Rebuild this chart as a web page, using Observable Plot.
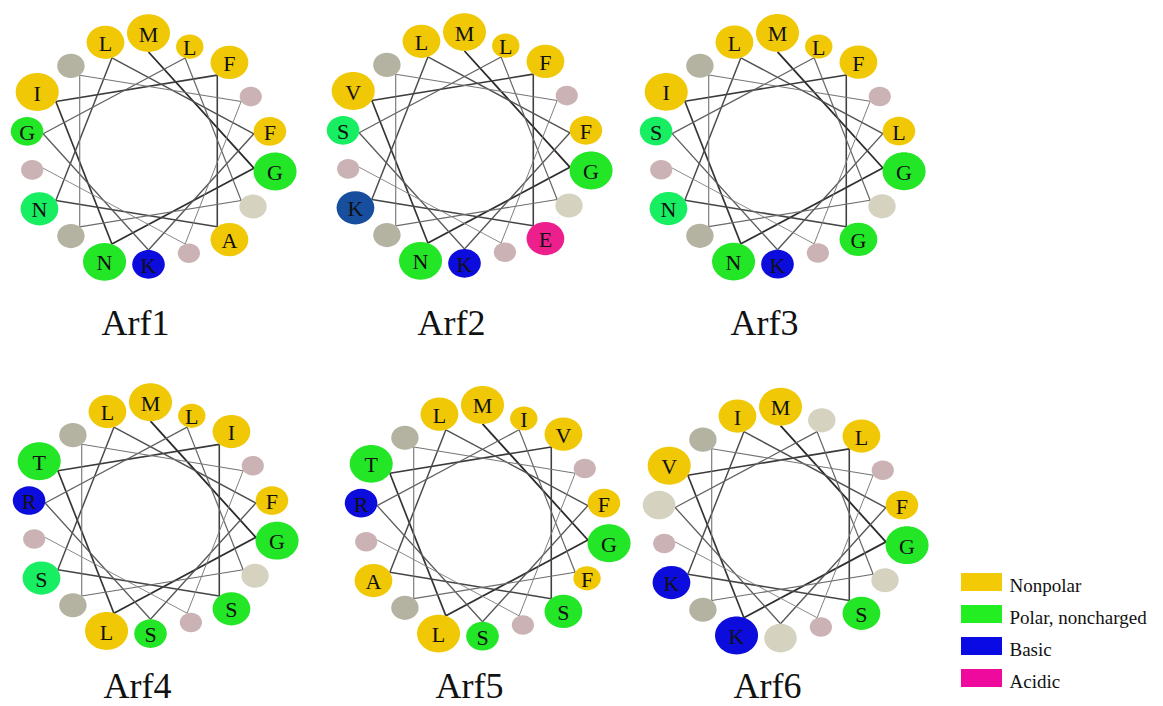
<!DOCTYPE html>
<html>
<head>
<meta charset="utf-8">
<script src="https://cdn.jsdelivr.net/npm/d3@7"></script>
<script src="https://cdn.jsdelivr.net/npm/@observablehq/plot@0.6"></script>
<style>
  body { margin: 0; background: #fff; }
</style>
</head>
<body>
<div id="chart"></div>
<script>
// Helical wheel projections of the first 18 N-terminal residues of six Arf proteins.
const panels = ["Arf1", "Arf2", "Arf3", "Arf4", "Arf5", "Arf6"];

// Residues in sequence order ("" = position drawn without a letter)
const arf1Seq = ["M","G","N","I","F","A","N","L","F","K","G","L","","","","","",""];
const arf2Seq = ["M","G","N","V","F","E","K","L","F","K","S","L","","","","","",""];
const arf3Seq = ["M","G","N","I","F","G","N","L","L","K","S","L","","","","","",""];
const arf4Seq = ["M","G","L","T","I","S","S","L","F","S","R","L","","","","","",""];
const arf5Seq = ["M","G","L","T","V","S","A","L","F","S","R","I","F","","","","",""];
const arf6Seq = ["M","G","K","V","L","S","K","I","F","","","","","","","","",""];

// Residue class of each position
// np = nonpolar, pol / polT = polar noncharged, bas / basD = basic, acid = acidic,
// pale / grey / pink = unlabelled positions
const arf1Class = ["np","pol","pol","np","np","np","polT","np","np","bas","pol","np","pale","grey","grey","pink","pink","pink"];
const arf2Class = ["np","pol","pol","np","np","acid","basD","np","np","bas","polT","np","pale","grey","grey","pink","pink","pink"];
const arf3Class = ["np","pol","pol","np","np","pol","polT","np","np","bas","polT","np","pale","grey","grey","pink","pink","pink"];
const arf4Class = ["np","pol","np","pol","np","pol","polT","np","np","pol","bas","np","pale","grey","grey","pink","pink","pink"];
const arf5Class = ["np","pol","np","pol","np","pol","np","np","np","pol","bas","np","np","grey","grey","pink","pink","pink"];
const arf6Class = ["np","pol","bas","np","np","pol","bas","np","np","pale","pale","pale","pale","grey","grey","pink","pink","pink"];

const legendLabels = ["Nonpolar", "Polar, noncharged", "Basic", "Acidic"];
const legendClasses = ["np", "pol", "bas", "acid"];

// ---- styles ----
const classColor = {
  np: "#f0c805", pol: "#22e626", polT: "#18ee62", bas: "#0c0cdc", basD: "#174f9e",
  acid: "#ec1f8c", pale: "#d5d2c0", grey: "#b4b2a1", pink: "#cbb3b5"
};
const legendColor = { np: "#f2ca06", pol: "#22ee22", bas: "#0a0ae4", acid: "#ee0a9c" };

// ---- layout ----
const centers = [[148, 150.5], [464, 149.5], [777, 150.3], [150, 519.7], [482, 522.3], [780, 524.2]];
const labelY = [323, 323, 323, 686, 686, 686];
const axisRing = { rx: 107, ry: 99 };   // ring where the backbone segments meet the discs
const flatten = 0.88;                   // disc height / width

const seqs = [arf1Seq, arf2Seq, arf3Seq, arf4Seq, arf5Seq, arf6Seq];
const classes = [arf1Class, arf2Class, arf3Class, arf4Class, arf5Class, arf6Class];

// discs shrink in steps along the sequence (deeper turns of the helix)
const discRadius = (i) => 21.5 - 2.6 * Math.floor(i * 0.28);

// each residue advances 100° around the helix axis, clockwise from the top;
// a disc sits just outside the ring, its inner edge touching the backbone
function place(w, i, outward) {
  const a = ((i * 100) % 360) * Math.PI / 180;
  const r = outward ? discRadius(i) : 0;
  return [
    centers[w][0] + (axisRing.rx + r) * Math.sin(a),
    centers[w][1] - (axisRing.ry + r * flatten) * Math.cos(a)
  ];
}

const residues = panels.flatMap((panel, w) =>
  seqs[w].map((aa, i) => {
    const [x, y] = place(w, i, true);
    return { panel, i, aa, cls: classes[w][i], x, y, r: discRadius(i) };
  })
);

const segments = panels.flatMap((panel, w) =>
  d3.range(seqs[w].length - 1).map((j) => {
    const [x1, y1] = place(w, j, false);
    const [x2, y2] = place(w, j + 1, false);
    return { panel, j, x1, y1, x2, y2 };
  })
);

// slightly flattened disc
const ellipse = {
  draw(ctx, size) {
    const rx = Math.sqrt(size / Math.PI), ry = rx * flatten, k = 0.5523;
    ctx.moveTo(rx, 0);
    ctx.bezierCurveTo(rx, k * ry, k * rx, ry, 0, ry);
    ctx.bezierCurveTo(-k * rx, ry, -rx, k * ry, -rx, 0);
    ctx.bezierCurveTo(-rx, -k * ry, -k * rx, -ry, 0, -ry);
    ctx.bezierCurveTo(k * rx, -ry, rx, -k * ry, rx, 0);
    ctx.closePath();
  }
};

const segColor = d3.interpolateRgb("#2a2a2a", "#808080");
const serif = "'Liberation Serif', 'Times New Roman', serif";

const chart = Plot.plot({
  width: 1163,
  height: 706,
  margin: 0,
  style: { background: "#ffffff" },
  x: { domain: [0, 1163], range: [0, 1163], axis: null },
  y: { domain: [0, 706], range: [0, 706], axis: null },
  r: { type: "identity" },
  color: { type: "identity" },
  marks: [
    Plot.link(segments, {
      x1: "x1", y1: "y1", x2: "x2", y2: "y2",
      stroke: (d) => segColor(d.j / 16),
      strokeWidth: (d) => 1.8 - 0.055 * d.j
    }),
    Plot.dot(residues, {
      x: "x", y: "y", r: "r",
      symbol: ellipse,
      fill: (d) => classColor[d.cls],
      stroke: null
    }),
    Plot.text(residues.filter((d) => d.aa), {
      x: "x", y: (d) => d.y + 1.5, text: "aa",
      fontFamily: serif, fontSize: 22, fill: "#111"
    }),
    Plot.text(panels, {
      x: (d, w) => centers[w][0] - 13,
      y: (d, w) => labelY[w],
      text: (d) => d,
      fontFamily: serif, fontSize: 36, fill: "#111"
    }),
    Plot.rect(legendLabels, {
      x1: () => 961, x2: () => 1002,
      y1: (d, i) => 573 + i * 32, y2: (d, i) => 591 + i * 32,
      fill: (d, i) => legendColor[legendClasses[i]]
    }),
    Plot.text(legendLabels, {
      x: () => 1009, y: (d, i) => 585 + i * 32, text: (d) => d,
      textAnchor: "start", fontFamily: serif, fontSize: 19, fill: "#111"
    })
  ]
});

document.getElementById("chart").append(chart);
</script>
</body>
</html>
